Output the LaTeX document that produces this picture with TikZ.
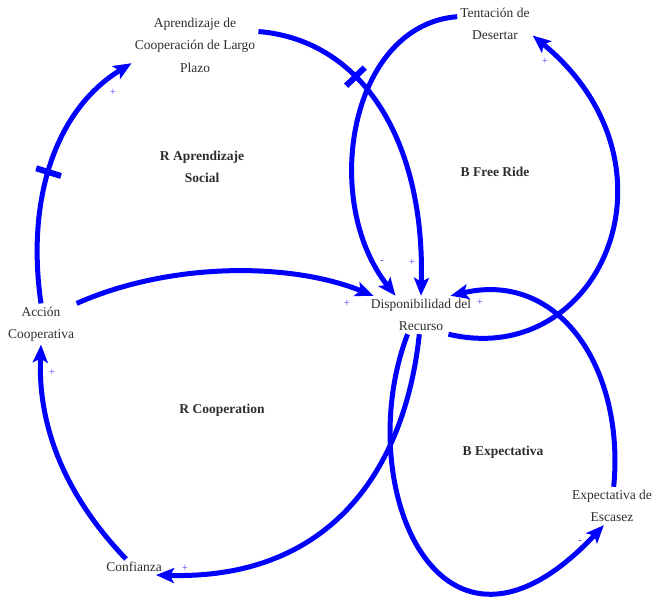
\documentclass[tikz,border=0pt]{standalone}
\usepackage{fontspec}
\setmainfont{Liberation Serif}
\usetikzlibrary{arrows.meta}
\definecolor{cldblue}{RGB}{0,0,255}
\definecolor{signblue}{RGB}{70,70,255}
\definecolor{txtgray}{RGB}{45,45,45}
\tikzset{
 var/.style={align=center, inner sep=3pt, text=txtgray, font=\fontsize{13.5}{22.5}\selectfont},
 looplabel/.style={align=center, text=txtgray, font=\bfseries\fontsize{13.5}{22.5}\selectfont},
 link/.style={draw=cldblue, line width=5pt, -{Stealth[length=18pt,width=15pt,inset=4pt]}},
 delaybar/.style={sloped, fill=cldblue, minimum width=6pt, minimum height=26pt, inner sep=0pt},
 sign/.style={text=signblue, font=\fontsize{11}{11}\selectfont, inner sep=0pt}
}
\begin{document}
\begin{tikzpicture}[x=1pt,y=-1pt]
\useasboundingbox (0,0) rectangle (653,608);
% variables
\node[var] (apr) at (195,45) {Aprendizaje de\\Cooperación de Largo\\Plazo};
\node[var] (tent) at (495,24) {Tentación de\\Desertar};
\node[var] (acc) at (41,324) {Acción\\Cooperativa};
\node[var] (disp) at (421,315) {Disponibilidad del\\Recurso};
\node[var] (conf) at (134,567) {Confianza};
\node[var] (exp) at (612,506) {Expectativa de\\Escasez};
% loop labels
\node[looplabel] (lAS) at (202,167) {R Aprendizaje\\Social};
\node[looplabel] (lFR) at (495,172) {B Free Ride};
\node[looplabel] (lCO) at (222,410) {R Cooperation};
\node[looplabel] (lEX) at (503,452) {B Expectativa};
% links
\draw[link] (acc.north) .. controls (26,200) and (55,110) .. (apr.196)
  node[delaybar,pos=0.46]{};
\draw[link] (apr.12) .. controls (362,40) and (425,140) .. (disp.north)
  node[delaybar,pos=0.37]{};
\draw[link] (tent.169) .. controls (350,25) and (320,200) .. (disp.143);
\draw[link] (disp.-35) .. controls (600,370) and (690,165) .. (tent.-17);
\draw[link] (acc.30) .. controls (170,262) and (290,262) .. (disp.158);
\draw[link] (disp.-125) .. controls (350,485) and (440,700) .. (exp.-113);
\draw[link] (exp.85) .. controls (625,370) and (560,270) .. (disp.33);
\draw[link] (disp.-95) .. controls (405,470) and (330,580) .. (conf.-20);
\draw[link] (conf.135) .. controls (60,490) and (38,420) .. (acc.south);
% polarity signs
\node[sign] (s1) at (113,92) {+};
\node[sign] (s2) at (545,61) {+};
\node[sign] (s3) at (52,372) {+};
\node[sign] (s4) at (382,262) {-};
\node[sign] (s5) at (412,262) {+};
\node[sign] (s6) at (347,303) {+};
\node[sign] (s7) at (480,302) {+};
\node[sign] (s8) at (185,568) {+};
\node[sign] (s9) at (580,542) {-};
\end{tikzpicture}
\end{document}
